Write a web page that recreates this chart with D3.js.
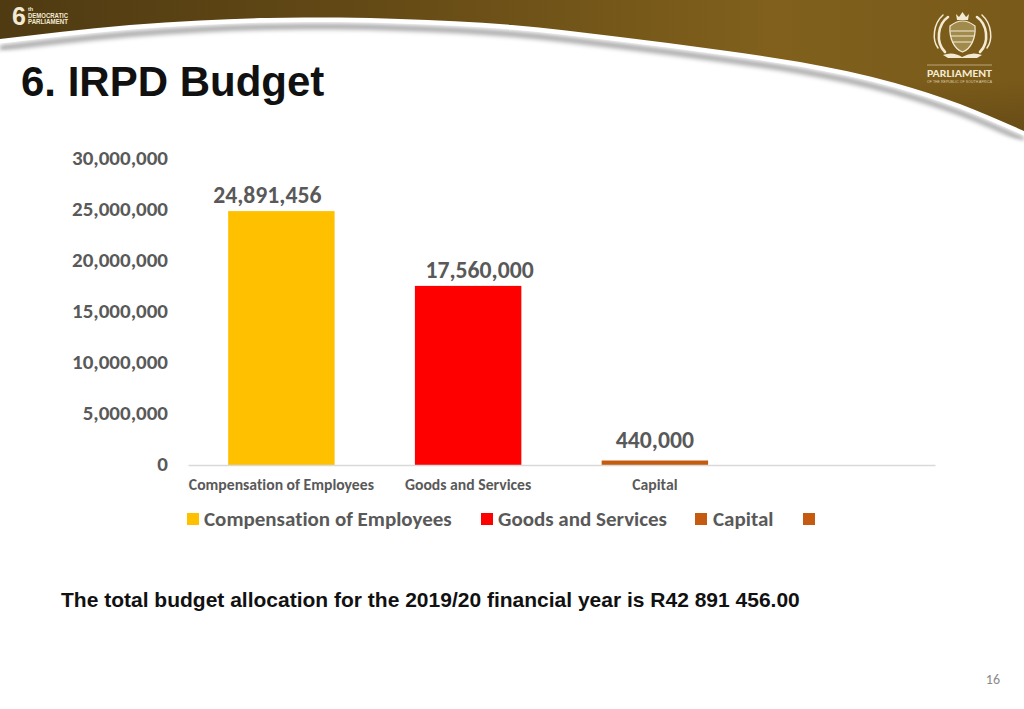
<!DOCTYPE html>
<html><head><meta charset="utf-8">
<script src="https://cdn.jsdelivr.net/npm/d3@7"></script>
<style>html,body{margin:0;padding:0;background:#fff}svg{display:block}text{font-variant-ligatures:none}</style>
</head><body><svg id="c" width="1024" height="709"></svg>
<script>
const categories = ["Compensation of Employees","Goods and Services","Capital",""];
const values = [24891456,17560000,440000,null];
const colors = ["#FFC000","#FF0000","#C55A11","#C55A11"];
const valueLabels = ["24,891,456","17,560,000","440,000"];
const yTicks = [0,5000000,10000000,15000000,20000000,25000000,30000000];
const legendLabels = ["Compensation of Employees","Goods and Services","Capital",""];
const footnote = "The total budget allocation for the 2019/20 financial year is R42 891 456.00";
const sans = "Carlito, Lato, 'Open Sans', sans-serif";
const arial = "'Liberation Sans', Arial, sans-serif";

const svg = d3.select("#c");
const defs = svg.append("defs");
const g = defs.append("linearGradient").attr("id","brown").attr("x1",0).attr("x2",1).attr("y1",0).attr("y2",0);
g.append("stop").attr("offset",0).attr("stop-color","#4f3a12");
g.append("stop").attr("offset",.35).attr("stop-color","#634915");
g.append("stop").attr("offset",.75).attr("stop-color","#80601c");
g.append("stop").attr("offset",1).attr("stop-color","#7a5a1a");
const gv = defs.append("linearGradient").attr("id","dark").attr("x1",0).attr("x2",0).attr("y1",0).attr("y2",1);
gv.append("stop").attr("offset",0).attr("stop-color","#000").attr("stop-opacity",0);
gv.append("stop").attr("offset",.6).attr("stop-color","#000").attr("stop-opacity",0);
gv.append("stop").attr("offset",1).attr("stop-color","#000").attr("stop-opacity",.16);
defs.append("filter").attr("id","blur").attr("x","-5%").attr("y","-50%").attr("width","110%").attr("height","200%")
  .append("feGaussianBlur").attr("stdDeviation",2);

// Header swoosh
const edge = [[0,39],[60,32],[130,25],[200,20.5],[267,18],[340,17.5],[400,19],[512,25],[620,37],[720,50],[800,62],[895,83],[960,104],[1024,131]];
const curve = d3.line().curve(d3.curveMonotoneX);
const shifted = dy => edge.map(([x,y])=>[x,y+dy]);
svg.append("path").attr("d",curve(shifted(6))+"L1024,"+(131+10)+"L0,52Z").attr("fill","#9a9a9a").attr("opacity",.8).attr("filter","url(#blur)");
svg.append("path").attr("d",curve(shifted(12))+"L1030,160L1030,709L-10,709L-10,60Z").attr("fill","#fff").attr("filter","url(#blur)");
svg.append("path").attr("d",curve(shifted(4.5))+"L1024,0L0,0Z").attr("fill","#fff");
svg.append("path").attr("d",curve(edge)+"L1024,0L0,0Z").attr("fill","url(#brown)");
svg.append("path").attr("d",curve(edge)+"L1024,0L0,0Z").attr("fill","url(#dark)");

// Left logo
const cream="#f3ead3";
svg.append("text").attr("x",12).attr("y",25).attr("font-family",arial).attr("font-weight",700).attr("font-size",25).attr("fill",cream).text("6");
svg.append("text").attr("x",28).attr("y",10.500).attr("font-family",arial).attr("font-weight",700).attr("font-size",5.500).attr("fill",cream).text("th");
svg.append("text").attr("x",28).attr("y",17.500).attr("font-family",arial).attr("font-weight",700).attr("font-size",6.400).attr("fill",cream).attr("textLength",40).attr("lengthAdjust","spacingAndGlyphs").text("DEMOCRATIC");
svg.append("text").attr("x",28).attr("y",24).attr("font-family",arial).attr("font-weight",700).attr("font-size",6.400).attr("fill",cream).attr("textLength",40).attr("lengthAdjust","spacingAndGlyphs").text("PARLIAMENT");

// Right emblem
const em = svg.append("g").attr("fill","none").attr("stroke",cream).attr("stroke-linecap","round");
em.append("path").attr("d","M948,17C938,24 935,42 945,52M977,17C987,24 990,42 980,52").attr("stroke-width",2.6);
em.append("path").attr("d","M943,15C933,24 932,40 938,48M982,15C992,24 993,40 987,48").attr("stroke-width",1.5);
em.append("path").attr("d","M950,26Q962.500,16 975,26C976,38 971,49 962.500,52C954,49 949,38 950,26Z").attr("stroke-width",1.2).attr("fill","#a08a4c");
em.append("path").attr("d","M951,31H974M951,36H974M953,42H972").attr("stroke-width",1.1);
em.append("path").attr("d","M956,14L959,17L962.500,12L966,17L969,14L968,20H957Z").attr("fill",cream).attr("stroke","none");
em.append("path").attr("d","M943,55Q953,51 962,57Q972,51 982,55L977,58H948Z").attr("fill",cream).attr("stroke","none");
svg.append("rect").attr("x",927).attr("y",64.500).attr("width",65).attr("height",1).attr("fill","#b9a678");
svg.append("text").attr("x",959.500).attr("y",77).attr("text-anchor","middle").attr("font-family",sans).attr("font-weight",700).attr("font-size",9.500).attr("fill",cream).attr("textLength",65).attr("lengthAdjust","spacingAndGlyphs").text("PARLIAMENT");
svg.append("text").attr("x",959.500).attr("y",83).attr("text-anchor","middle").attr("font-family",arial).attr("font-size",3.400).attr("fill","#dfd2ae").attr("textLength",65).text("OF THE REPUBLIC OF SOUTH AFRICA");

// Title
svg.append("text").attr("x",21).attr("y",96).attr("font-family",arial).attr("font-weight",700).attr("font-size",42).attr("fill","#111").text("6. IRPD Budget");

// Chart
const x = d3.scaleBand().domain(d3.range(categories.length)).range([188,935]).paddingInner(0.43).paddingOuter(0.215);
const y = d3.scaleLinear().domain([0,30000000]).range([465,159]);
const ink="#595959";

svg.append("g").selectAll("rect").data(values.slice(0,3)).join("rect")
  .attr("x",(d,i)=>x(i)).attr("width",x.bandwidth())
  .attr("y",d=>y(d)).attr("height",d=>y(0)-y(d)).attr("fill",(d,i)=>colors[i]);

const yAxis = d3.axisLeft(y).tickValues(yTicks).tickSize(0).tickFormat(d3.format(","));
const ya = svg.append("g").attr("transform","translate(172,0)").call(yAxis);
ya.select(".domain").remove();
ya.selectAll("text").attr("font-family",sans).attr("font-size",21).attr("font-weight",700).attr("fill",ink).attr("dy","0.32em").attr("x",-4).attr("y",-1);

const xa = svg.append("g").attr("transform","translate(0,465)").call(d3.axisBottom(x).tickSize(0).tickFormat(i=>categories[i]));
xa.select(".domain").attr("stroke","#d9d9d9").attr("stroke-width",1.500);
xa.selectAll("text").attr("font-family",sans).attr("font-size",15.700).attr("font-weight",700).attr("fill",ink).attr("y",14);

const labelOffset = [-14,11.5,0];
const labelLift = [8,7.5,12.5];
svg.append("g").selectAll("text").data(valueLabels).join("text")
  .attr("x",(d,i)=>x(i)+x.bandwidth()/2+labelOffset[i]).attr("y",(d,i)=>y(values[i])-labelLift[i])
  .attr("text-anchor","middle").attr("font-family",sans).attr("font-weight",700).attr("font-size",23.700).attr("fill",ink).text(d=>d);

// Legend
const lx=[187,481,695,803];
const lg=svg.append("g").selectAll("g").data(legendLabels).join("g").attr("transform",(d,i)=>`translate(${lx[i]},513)`);
lg.append("rect").attr("width",12).attr("height",12).attr("fill",(d,i)=>colors[i]);
lg.append("text").attr("x",(d,i)=>i==2?18:17).attr("y",12.500).attr("font-family",sans).attr("font-weight",700).attr("font-size",21).attr("fill",ink).text(d=>d);

// Footnote & page number
svg.append("text").attr("x",61).attr("y",607).attr("font-family",arial).attr("font-weight",700).attr("font-size",21).attr("fill","#111").text(footnote);
svg.append("text").attr("x",1000).attr("y",684).attr("text-anchor","end").attr("font-family",sans).attr("font-size",14).attr("fill","#8a8a8a").text("16");
</script></body></html>
